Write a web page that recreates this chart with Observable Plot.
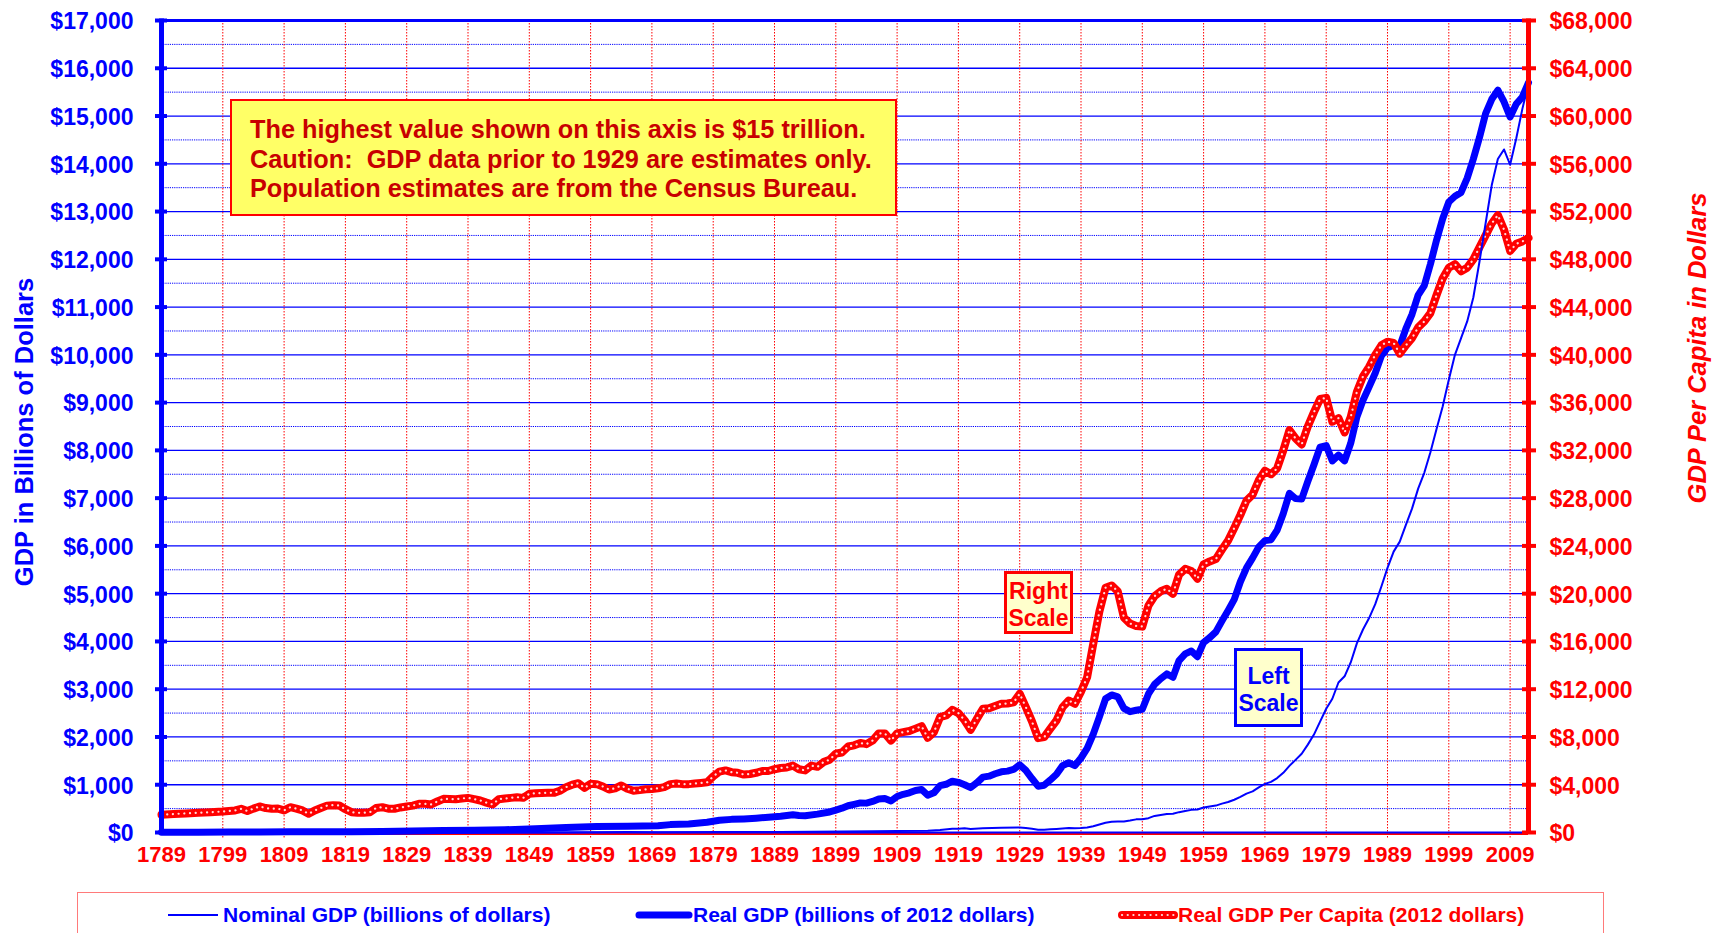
<!DOCTYPE html>
<html>
<head>
<meta charset="utf-8">
<script src="https://cdn.jsdelivr.net/npm/d3@7"></script>
<script src="https://cdn.jsdelivr.net/npm/@observablehq/plot@0.6"></script>
<style>
  html, body { margin: 0; padding: 0; background: #fff; }
  body { width: 1720px; height: 933px; overflow: hidden; position: relative; font-family: "Liberation Sans", Arial, sans-serif; }
  #chart { position: absolute; left: 0; top: 0; }
  .ov { position: absolute; font-weight: bold; white-space: nowrap; }
  .ytitle { transform: translate(-50%, -50%) rotate(-90deg); font-size: 25.5px; }
  .note { left: 230px; top: 99px; width: 663px; height: 113px; background: #ffff66; border: 2px solid #ff0000; color: #c80000; font-size: 25.3px; line-height: 29px; padding: 0; }
  .note div { position: absolute; left: 18px; }
  .scalebox { background: #ffffcc; font-size: 23px; line-height: 27px; text-align: center; box-sizing: border-box; }
  .legend { position: absolute; left: 77px; top: 892px; width: 1527px; height: 60px; border: 1.5px solid #ff7a7a; border-bottom: none; box-sizing: border-box; }
  .lg { position: absolute; top: 10px; font-size: 21px; font-weight: bold; white-space: nowrap; }
</style>
</head>
<body>
<div id="chart"></div>
<script>
// ---- data ----
const xTicks = [1789,1799,1809,1819,1829,1839,1849,1859,1869,1879,1889,1899,1909,1919,1929,1939,1949,1959,1969,1979,1989,1999,2009];
const leftTicks = [0,1000,2000,3000,4000,5000,6000,7000,8000,9000,10000,11000,12000,13000,14000,15000,16000,17000];
const halfTicks = [500,1500,2500,3500,4500,5500,6500,7500,8500,9500,10500,11500,12500,13500,14500,15500,16500];
const rightTicks = [0,4000,8000,12000,16000,20000,24000,28000,32000,36000,40000,44000,48000,52000,56000,60000,64000,68000];

// Nominal GDP (billions of dollars)
const nomYears = [1789,1800,1810,1820,1830,1840,1850,1860,1865,1870,1880,1890,1900,1905,1909,1914,1916,1918,1919,1920,1921,1923,1926,1929,1930,1931,1932,1933,1934,1935,1936,1937,1938,1939,1940,1941,1942,1943,1944,1945,1946,1947,1948,1949,1950,1951,1952,1953,1954,1955,1956,1957,1958,1959,1960,1961,1962,1963,1964,1965,1966,1967,1968,1969,1970,1971,1972,1973,1974,1975,1976,1977,1978,1979,1980,1981,1982,1983,1984,1985,1986,1987,1988,1989,1990,1991,1992,1993,1994,1995,1996,1997,1998,1999,2000,2001,2002,2003,2004,2005,2006,2007,2008,2009,2010,2011,2012];
const nomValues = [0.19,0.48,0.69,0.69,0.99,1.6,2.6,4.4,10,7.7,10.4,13,20.7,25,32,37,50,77,80,90,73,87,98,104,92,77,60,57,67,75,84,93,87,93,103,130,166,203,225,228,228,250,275,276,300,347,367,389,391,426,450,474,481,522,543,563,605,638,686,744,815,862,943,1019,1060,1140,1250,1395,1520,1650,1840,2050,2320,2590,2800,3140,3270,3560,3960,4250,4490,4780,5150,5540,5880,6090,6440,6780,7200,7530,7960,8450,8920,9480,10000,10350,10700,11200,11950,12750,13550,14100,14300,13980,14530,15150,15680];

// Real GDP (billions of 2012 dollars)
const realYears = [1789,1795,1800,1805,1810,1815,1820,1825,1830,1835,1840,1845,1850,1855,1860,1865,1870,1872,1875,1878,1880,1882,1884,1886,1888,1890,1892,1893,1894,1896,1898,1899,1900,1901,1902,1903,1904,1905,1906,1907,1908,1909,1910,1911,1912,1913,1914,1915,1916,1917,1918,1919,1920,1921,1922,1923,1924,1925,1926,1927,1928,1929,1930,1931,1932,1933,1934,1935,1936,1937,1938,1939,1940,1941,1942,1943,1944,1945,1946,1947,1948,1949,1950,1951,1952,1953,1954,1955,1956,1957,1958,1959,1960,1961,1962,1963,1964,1965,1966,1967,1968,1969,1970,1971,1972,1973,1974,1975,1976,1977,1978,1979,1980,1981,1982,1983,1984,1985,1986,1987,1988,1989,1990,1991,1992,1993,1994,1995,1996,1997,1998,1999,2000,2001,2002,2003,2004,2005,2006,2007,2008,2009,2010,2011,2012];
const realValues = [5.8,7.5,9.8,13,15,17.5,16.3,23,29,41,48,58,76,104,127,130,142,165,180,215,255,275,285,300,320,340,370,355,350,385,430,470,509,560,590,620,615,650,700,710,660,754,800,830,880,900,780,830,980,1010,1075,1050,1000,940,1040,1160,1180,1230,1270,1285,1320,1418,1300,1130,970,990,1100,1220,1400,1460,1400,1560,1760,2060,2420,2800,2880,2840,2600,2530,2560,2580,2900,3100,3220,3320,3250,3600,3740,3800,3680,3980,4080,4200,4430,4650,4880,5250,5540,5750,5980,6110,6130,6330,6680,7100,6990,6980,7350,7700,8070,8100,7780,7900,7780,8150,8700,9050,9330,9620,9980,10150,10200,10180,10550,10850,11250,11450,11900,12400,12850,13200,13320,13400,13700,14100,14550,15050,15350,15540,15300,14980,15250,15400,15700];

// Real GDP per capita (2012 dollars) - right scale
const pcYears = [1789,1791,1793,1795,1797,1799,1801,1802,1803,1804,1805,1806,1807,1808,1809,1810,1811,1812,1813,1814,1815,1816,1817,1818,1819,1820,1821,1822,1823,1824,1825,1826,1827,1828,1829,1830,1831,1832,1833,1834,1835,1836,1837,1838,1839,1840,1841,1842,1843,1844,1845,1846,1847,1848,1849,1850,1851,1852,1853,1854,1855,1856,1857,1858,1859,1860,1861,1862,1863,1864,1865,1866,1867,1868,1869,1870,1871,1872,1873,1874,1875,1876,1877,1878,1879,1880,1881,1882,1883,1884,1885,1886,1887,1888,1889,1890,1891,1892,1893,1894,1895,1896,1897,1898,1899,1900,1901,1902,1903,1904,1905,1906,1907,1908,1909,1910,1911,1912,1913,1914,1915,1916,1917,1918,1919,1920,1921,1922,1923,1924,1925,1926,1927,1928,1929,1930,1931,1932,1933,1934,1935,1936,1937,1938,1939,1940,1941,1942,1943,1944,1945,1946,1947,1948,1949,1950,1951,1952,1953,1954,1955,1956,1957,1958,1959,1960,1961,1962,1963,1964,1965,1966,1967,1968,1969,1970,1971,1972,1973,1974,1975,1976,1977,1978,1979,1980,1981,1982,1983,1984,1985,1986,1987,1988,1989,1990,1991,1992,1993,1994,1995,1996,1997,1998,1999,2000,2001,2002,2003,2004,2005,2006,2007,2008,2009,2010,2011,2012];
const pcValues = [1480,1550,1600,1650,1700,1760,1850,1985,1800,2000,2180,2050,1990,2000,1850,2120,2000,1850,1570,1850,2050,2250,2290,2260,1950,1700,1650,1650,1700,2050,2120,1990,1990,2100,2180,2250,2400,2400,2350,2600,2820,2800,2790,2850,2900,2800,2680,2500,2345,2790,2850,2900,2960,2900,3240,3280,3300,3320,3320,3500,3800,4000,4130,3740,4080,4050,3850,3600,3700,3940,3660,3500,3550,3620,3650,3700,3800,4050,4100,4050,4050,4100,4150,4200,4700,5100,5200,5050,5000,4850,4900,5000,5150,5150,5300,5400,5450,5600,5300,5200,5600,5500,5900,6100,6600,6700,7200,7300,7500,7400,7700,8300,8300,7700,8300,8400,8500,8700,8900,7930,8400,9660,9800,10270,10000,9400,8600,9500,10360,10400,10600,10780,10800,10900,11620,10500,9300,7900,7990,8700,9380,10500,11055,10780,11800,13000,15800,18500,20500,20690,20200,18000,17500,17300,17250,19000,19800,20200,20410,19990,21600,22080,21900,21250,22450,22700,22900,23700,24460,25500,26600,27800,28300,29500,30300,30000,30500,32000,33700,33000,32500,34000,35200,36300,36400,34400,34700,33500,34800,36900,38200,39000,40000,40800,41100,41000,40100,40800,41400,42300,42800,43500,45000,46400,47300,47600,47000,47300,48000,49000,50000,51000,51700,50500,48700,49300,49500,49800];

const nominal = nomYears.map((year, i) => ({year, value: nomValues[i]}));
const realGdp = realYears.map((year, i) => ({year, value: realValues[i]}));
const perCapita = pcYears.map((year, i) => ({year, value: pcValues[i]}));

const BLUE = "#0000ff", RED = "#ff0000";
const fmt = d3.format(",");
const FONT = "'Liberation Sans', Arial, sans-serif";

const chart = Plot.plot({
  width: 1720,
  height: 880,
  marginLeft: 161,
  marginRight: 192,
  marginTop: 20,
  marginBottom: 48,
  x: {domain: [1789, 2012], axis: null},
  y: {domain: [0, 17000], axis: null},
  style: {fontFamily: FONT, background: "white", overflow: "visible"},
  marks: [
    Plot.ruleY(halfTicks, {y: d => d, stroke: BLUE, strokeWidth: 1, strokeDasharray: "1.2,1"}),
    Plot.ruleY(leftTicks.slice(1, -1), {y: d => d, stroke: BLUE, strokeWidth: 1.3}),
    Plot.ruleX(xTicks.slice(1), {x: d => d, stroke: RED, strokeWidth: 1, strokeDasharray: "1.5,1.5", insetBottom: -6}),
    Plot.ruleY([17000], {y: d => d, stroke: BLUE, strokeWidth: 3}),
    Plot.ruleY([0], {y: d => d, stroke: RED, strokeWidth: 2, dy: 1.5}),
    Plot.ruleY([0], {y: d => d, stroke: BLUE, strokeWidth: 2}),
    Plot.lineY(realGdp, {x: "year", y: "value", stroke: BLUE, strokeWidth: 7, strokeLinejoin: "round", strokeLinecap: "round"}),
    Plot.lineY(perCapita, {x: "year", y: d => d.value / 4, stroke: RED, strokeWidth: 8, strokeLinejoin: "round"}),
    Plot.lineY(perCapita, {x: "year", y: d => d.value / 4, stroke: "#ffffff", strokeOpacity: 0.85, strokeWidth: 2.2, strokeDasharray: "0.1,5.6", strokeLinecap: "round"}),
    Plot.lineY(nominal, {x: "year", y: "value", stroke: BLUE, strokeWidth: 2}),
    Plot.ruleX([1789], {x: d => d, stroke: BLUE, strokeWidth: 5, insetTop: -1.5, insetBottom: -2}),
    Plot.ruleX([2012], {x: d => d, stroke: RED, strokeWidth: 5, insetTop: -1.5, insetBottom: -2}),
    Plot.tickY(leftTicks, {y: d => d, stroke: BLUE, strokeWidth: 4, insetLeft: -6, insetRight: 1361}),
    Plot.tickY(rightTicks, {y: d => d / 4, stroke: RED, strokeWidth: 4, insetLeft: 1361, insetRight: -8}),
    Plot.text(leftTicks, {y: d => d, frameAnchor: "left", dx: -28, dy: 1.5, textAnchor: "end", text: d => "$" + fmt(d), fill: BLUE, fontSize: 23, fontWeight: "bold", fontFamily: FONT}),
    Plot.text(rightTicks, {y: d => d / 4, frameAnchor: "right", dx: 21, dy: 1.5, textAnchor: "start", text: d => "$" + fmt(d), fill: RED, fontSize: 23, fontWeight: "bold", fontFamily: FONT}),
    Plot.text(xTicks, {x: d => d, frameAnchor: "bottom", dy: 29, text: d => String(d), fill: RED, fontSize: 22, fontWeight: "bold", fontFamily: FONT})
  ]
});
document.getElementById("chart").appendChild(chart);
</script>

<div class="ov ytitle" style="left:24px; top:432px; color:#0000ff;">GDP in Billions of Dollars</div>
<div class="ov ytitle" style="left:1697px; top:348px; color:#ff0000; font-style:italic;">GDP Per Capita in Dollars</div>

<div class="ov note">
  <div style="top:14px;">The highest value shown on this axis is $15 trillion.</div>
  <div style="top:43.5px;">Caution:&nbsp; GDP data prior to 1929 are estimates only.</div>
  <div style="top:72.5px;">Population estimates are from the Census Bureau.</div>
</div>

<div class="ov scalebox" style="left:1004px; top:571px; width:69px; height:63px; border:3px solid #ff0000; color:#ff0000; padding-top:4px;">Right<br>Scale</div>
<div class="ov scalebox" style="left:1234px; top:648px; width:69px; height:79px; border:3px solid #0000ff; color:#0000ff; padding-top:12px;">Left<br>Scale</div>

<div class="legend">
  <svg style="position:absolute; left:90px; top:14px;" width="52" height="16"><line x1="0" y1="8" x2="50" y2="8" stroke="#0000ff" stroke-width="2"/></svg>
  <div class="lg" style="left:145px; color:#0000ff;">Nominal GDP (billions of dollars)</div>
  <svg style="position:absolute; left:557px; top:14px;" width="58" height="16"><line x1="4" y1="8" x2="54" y2="8" stroke="#0000ff" stroke-width="7" stroke-linecap="round"/></svg>
  <div class="lg" style="left:615px; color:#0000ff;">Real GDP (billions of 2012 dollars)</div>
  <svg style="position:absolute; left:1040px; top:14px;" width="60" height="16"><line x1="4" y1="8" x2="56" y2="8" stroke="#ff0000" stroke-width="8" stroke-linecap="round"/><line x1="4" y1="8" x2="56" y2="8" stroke="#ffffff" stroke-opacity="0.85" stroke-width="2.2" stroke-dasharray="0.1,5.6" stroke-linecap="round"/></svg>
  <div class="lg" style="left:1100px; color:#ff0000;">Real GDP Per Capita (2012 dollars)</div>
</div>
</body>
</html>
